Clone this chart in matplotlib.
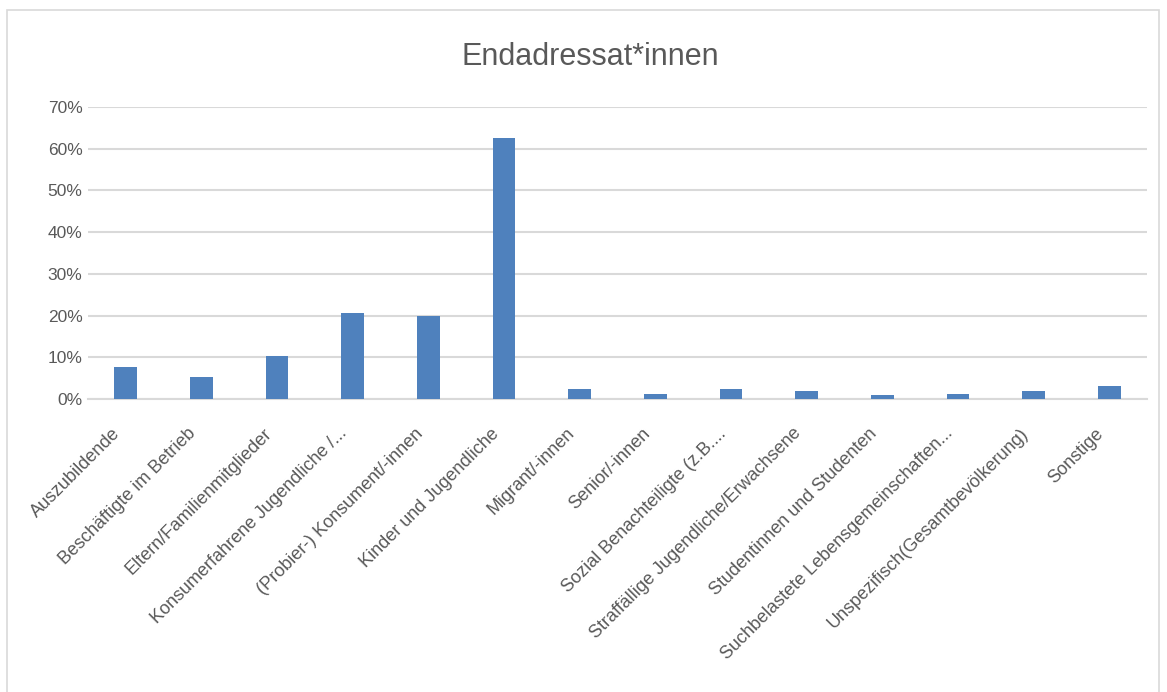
import matplotlib.pyplot as plt
from matplotlib.patches import Rectangle
from matplotlib.ticker import PercentFormatter
from matplotlib.transforms import ScaledTranslation

categories = [
    'Auszubildende',
    'Beschäftigte im Betrieb',
    'Eltern/Familienmitglieder',
    'Konsumerfahrene Jugendliche /...',
    '(Probier-) Konsument/-innen',
    'Kinder und Jugendliche',
    'Migrant/-innen',
    'Senior/-innen',
    'Sozial Benachteiligte (z.B....',
    'Straffällige Jugendliche/Erwachsene',
    'Studentinnen und Studenten',
    'Suchbelastete Lebensgemeinschaften...',
    'Unspezifisch(Gesamtbevölkerung)',
    'Sonstige',
]
shares = [0.077, 0.053, 0.103, 0.206, 0.200, 0.626, 0.023,
          0.011, 0.023, 0.018, 0.009, 0.011, 0.018, 0.032]

plt.rcParams['font.family'] = ['Liberation Sans', 'DejaVu Sans']
grey = '#595959'

fig = plt.figure(figsize=(11.67, 6.92), dpi=100)
fig.patches.append(Rectangle((0.006, -0.01), 0.987, 0.995, transform=fig.transFigure,
                             fill=False, edgecolor='#d9d9d9', linewidth=1.2))
ax = fig.add_axes([0.0754, 0.4234, 0.9076, 0.422])

x = range(len(categories))
ax.bar(x, shares, width=0.3, color='#4f81bd', zorder=3)
ax.set_xlim(-0.5, len(categories) - 0.5)
ax.set_ylim(0, 0.7)
ax.set_yticks([i / 10 for i in range(8)])
ax.yaxis.set_major_formatter(PercentFormatter(1.0, decimals=0))
ax.grid(axis='y', color='#d9d9d9', linewidth=1.5, zorder=0)
for s in ['top', 'right', 'left']:
    ax.spines[s].set_visible(False)
ax.spines['bottom'].set_color('#d9d9d9')
ax.spines['bottom'].set_linewidth(1.5)
ax.tick_params(axis='both', length=0, colors=grey, labelsize=12.5)
ax.tick_params(axis='y', pad=4)
ax.set_xticks(list(x))
ax.set_xticklabels(categories, rotation=45, ha='right', va='center',
                   rotation_mode='anchor', fontsize=13)
ax.tick_params(axis='x', pad=23)
# nudge the slanted labels a bit to the left, like Excel places them
shift = ScaledTranslation(-8 / 100, 0, fig.dpi_scale_trans)
for lbl in ax.get_xticklabels():
    lbl.set_transform(lbl.get_transform() + shift)

fig.text(0.506, 0.917, 'Endadressat*innen', ha='center', va='center',
         fontsize=22, color=grey)

plt.savefig('out.png')
